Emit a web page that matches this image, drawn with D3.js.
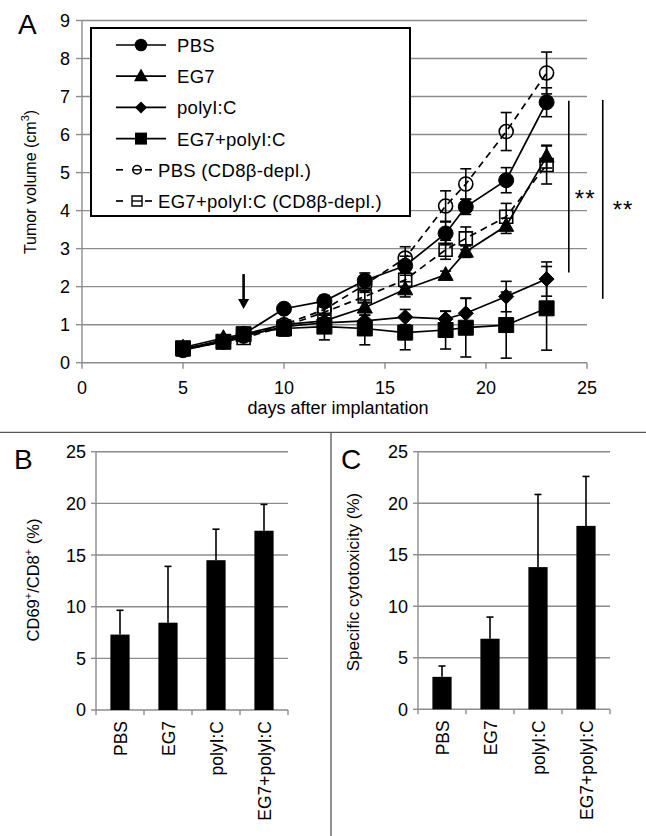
<!DOCTYPE html>
<html><head><meta charset="utf-8">
<script src="https://cdn.jsdelivr.net/npm/d3@7"></script>
<style>
body{margin:0;background:#fff}
text{font-family:"Liberation Sans",Arial,Helvetica,sans-serif;fill:#000}
</style>
</head><body>
<svg id="c" width="646" height="836"></svg>
<script>
// ---------- DATA ----------
const days = [5, 7, 8, 10, 12, 14, 16, 18, 19, 21, 23];
const seriesNames = ["PBS", "EG7", "polyI:C", "EG7+polyI:C", "PBS (CD8β-depl.)", "EG7+polyI:C (CD8β-depl.)"];
const pbsVals        = [0.33, 0.55, 0.75, 1.42, 1.62, 2.16, 2.55, 3.40, 4.10, 4.80, 6.85];
const pbsErr         = [0.05, 0.05, 0.08, 0.10, 0.15, 0.20, 0.25, 0.30, 0.20, 0.33, 0.38];
const eg7Vals        = [0.40, 0.65, 0.75, 1.00, 1.10, 1.45, 1.93, 2.31, 2.92, 3.60, 5.42];
const eg7Err         = [0.05, 0.05, 0.10, 0.10, 0.15, 0.20, 0.20, 0.10, 0.15, 0.20, 0.30];
const polyVals       = [0.35, 0.60, 0.70, 0.95, 1.05, 1.10, 1.20, 1.15, 1.30, 1.74, 2.20];
const polyErr        = [0.05, 0.05, 0.10, 0.10, 0.10, 0.15, 0.20, 0.20, 0.40, 0.40, 0.45];
const eg7PolyVals    = [0.38, 0.55, 0.75, 0.90, 0.95, 0.90, 0.79, 0.86, 0.92, 0.99, 1.43];
const eg7PolyErr     = [0.05, 0.05, 0.10, 0.20, 0.35, 0.43, 0.45, 0.50, 0.77, 0.87, 1.10];
const pbsDeplVals    = [0.35, 0.55, 0.70, 1.00, 1.40, 2.05, 2.75, 4.12, 4.70, 6.08, 7.62];
const pbsDeplErr     = [0.05, 0.05, 0.08, 0.10, 0.15, 0.20, 0.30, 0.40, 0.40, 0.50, 0.55];
const eg7PolyDeplVals= [0.35, 0.55, 0.65, 0.95, 1.33, 1.74, 2.18, 2.97, 3.27, 3.84, 5.20];
const eg7PolyDeplErr = [0.05, 0.05, 0.08, 0.10, 0.15, 0.15, 0.20, 0.25, 0.30, 0.35, 0.50];
const xTicksA = [0, 5, 10, 15, 20, 25];
const yTicksA = [0, 1, 2, 3, 4, 5, 6, 7, 8, 9];
const arrowDay = 8, arrowFrom = 2.33, arrowTo = 1.41;
const sigBrackets = [ {x: 24.1, top: 6.89, bottom: 2.37}, {x: 25.78, top: 6.91, bottom: 1.68} ];

const barCats = ["PBS", "EG7", "polyI:C", "EG7+polyI:C"];
const cd69Vals = [7.3, 8.45, 14.5, 17.35];
const cd69Err  = [2.35, 5.45, 3.0, 2.55];
const cytoVals = [3.15, 6.85, 13.8, 17.8];
const cytoErr  = [1.05, 2.1, 7.05, 4.8];
const yTicksBar = [0, 5, 10, 15, 20, 25];

// ---------- HELPERS ----------
const svg = d3.select("#c");
const GRID = "#8c8c8c";
const TICK_FS = 18;
function shapePath(type, s) {
  const h = s / 2;
  if (type === "circle") return `M${-h},0A${h},${h} 0 1,0 ${h},0A${h},${h} 0 1,0 ${-h},0Z`;
  if (type === "square") return `M${-h},${-h}H${h}V${h}H${-h}Z`;
  if (type === "diamond") return `M0,${-h}L${h},0L0,${h}L${-h},0Z`;
  const th = s * 0.92;
  return `M0,${-th * 0.6}L${h},${th * 0.4}L${-h},${th * 0.4}Z`;
}

// ---------- PANEL A ----------
const xA = d3.scaleLinear().domain([0, 25]).range([82, 587]);
const yA = d3.scaleLinear().domain([0, 9]).range([362.7, 20.5]);
const gA = svg.append("g");

gA.selectAll("line.grid").data(yTicksA.filter(v => v > 0)).join("line")
  .attr("x1", xA(0)).attr("x2", xA(25)).attr("y1", d => yA(d)).attr("y2", d => yA(d))
  .attr("stroke", GRID).attr("stroke-width", 1.4);
gA.append("line").attr("x1", xA(0)).attr("x2", xA(25)).attr("y1", yA(0)).attr("y2", yA(0)).attr("stroke", GRID).attr("stroke-width", 1.4);
gA.append("line").attr("x1", xA(0)).attr("x2", xA(0)).attr("y1", yA(0)).attr("y2", yA(9)).attr("stroke", GRID).attr("stroke-width", 1.4);
gA.selectAll("line.yt").data(yTicksA).join("line")
  .attr("x1", xA(0) - 6).attr("x2", xA(0)).attr("y1", d => yA(d)).attr("y2", d => yA(d)).attr("stroke", GRID).attr("stroke-width", 1.4);
gA.selectAll("line.xt").data(xTicksA).join("line")
  .attr("x1", d => xA(d)).attr("x2", d => xA(d)).attr("y1", yA(0)).attr("y2", yA(0) + 6).attr("stroke", GRID).attr("stroke-width", 1.4);
gA.selectAll("text.yl").data(yTicksA).join("text")
  .attr("x", 70).attr("y", d => yA(d)).attr("dy", "0.36em").attr("text-anchor", "end").attr("font-size", TICK_FS).text(d => d);
gA.selectAll("text.xl").data(xTicksA).join("text")
  .attr("x", d => xA(d)).attr("y", 394).attr("text-anchor", "middle").attr("font-size", TICK_FS).text(d => d);

gA.append("text").attr("x", 338).attr("y", 414).attr("text-anchor", "middle").attr("font-size", 18).text("days after implantation");
const tA = gA.append("text").attr("transform", "translate(36,182) rotate(-90)").attr("text-anchor", "middle").attr("font-size", 16);
tA.append("tspan").text("Tumor volume (cm");
tA.append("tspan").attr("font-size", 11).attr("dy", -7).text("3");
tA.append("tspan").attr("dy", 7).text(")");
gA.append("text").attr("x", 18).attr("y", 34).attr("font-size", 28).text("A");

const series = [
  {name: seriesNames[0], vals: pbsVals, errs: pbsErr, shape: "circle", filled: true, dashed: false, size: 15},
  {name: seriesNames[1], vals: eg7Vals, errs: eg7Err, shape: "triangle", filled: true, dashed: false, size: 15},
  {name: seriesNames[2], vals: polyVals, errs: polyErr, shape: "diamond", filled: true, dashed: false, size: 15},
  {name: seriesNames[3], vals: eg7PolyVals, errs: eg7PolyErr, shape: "square", filled: true, dashed: false, size: 15},
  {name: seriesNames[4], vals: pbsDeplVals, errs: pbsDeplErr, shape: "circle", filled: false, dashed: true, size: 14},
  {name: seriesNames[5], vals: eg7PolyDeplVals, errs: eg7PolyDeplErr, shape: "square", filled: false, dashed: true, size: 13}
];
const line = d3.line().x(d => xA(d.x)).y(d => yA(d.y));

// error bars
series.forEach(s => {
  const pts = days.map((x, i) => ({x, y: s.vals[i], e: s.errs[i]}));
  const g = gA.append("g").attr("stroke", "#000").attr("stroke-width", 1.6);
  pts.forEach(p => {
    g.append("line").attr("x1", xA(p.x)).attr("x2", xA(p.x)).attr("y1", yA(p.y - p.e)).attr("y2", yA(p.y + p.e));
    [p.y - p.e, p.y + p.e].forEach(v => g.append("line").attr("x1", xA(p.x) - 5.5).attr("x2", xA(p.x) + 5.5).attr("y1", yA(v)).attr("y2", yA(v)));
  });
});
// lines
series.forEach(s => {
  const pts = days.map((x, i) => ({x, y: s.vals[i]}));
  gA.append("path").attr("d", line(pts)).attr("fill", "none").attr("stroke", "#000").attr("stroke-width", 1.7)
    .attr("stroke-dasharray", s.dashed ? "7,5" : null);
});
// markers
series.forEach(s => {
  gA.append("g").selectAll("path").data(days.map((x, i) => ({x, y: s.vals[i]}))).join("path")
    .attr("transform", d => `translate(${xA(d.x)},${yA(d.y)})`)
    .attr("d", shapePath(s.shape, s.size))
    .attr("fill", s.filled ? "#000" : "none").attr("stroke", "#000").attr("stroke-width", s.filled ? 1 : 1.6);
});

// arrow
gA.append("line").attr("x1", xA(arrowDay)).attr("x2", xA(arrowDay)).attr("y1", yA(arrowFrom)).attr("y2", yA(arrowTo) - 8)
  .attr("stroke", "#000").attr("stroke-width", 2.6);
gA.append("path").attr("d", `M${xA(arrowDay) - 5.5},${yA(arrowTo) - 10}L${xA(arrowDay) + 5.5},${yA(arrowTo) - 10}L${xA(arrowDay)},${yA(arrowTo)}Z`).attr("fill", "#000");

// significance
sigBrackets.forEach(b => {
  gA.append("line").attr("x1", xA(b.x)).attr("x2", xA(b.x)).attr("y1", yA(b.top)).attr("y2", yA(b.bottom)).attr("stroke", "#000").attr("stroke-width", 1.6);
});
gA.append("text").attr("x", xA(sigBrackets[0].x) + 6).attr("y", 207).attr("font-size", 24).attr("letter-spacing", 1).text("**");
gA.append("text").attr("x", xA(sigBrackets[1].x) + 10).attr("y", 218).attr("font-size", 24).attr("letter-spacing", 1).text("**");

// legend
const lg = gA.append("g");
lg.append("rect").attr("x", 91).attr("y", 28).attr("width", 319).attr("height", 188).attr("fill", "#fff").attr("stroke", "#000").attr("stroke-width", 2);
const legendSizes = [12.6, 14, 12, 12, 8.5, 10];
series.forEach((s, i) => {
  const cy = 45 + i * 31.2;
  if (!s.dashed) {
    lg.append("line").attr("x1", 116).attr("x2", 166).attr("y1", cy).attr("y2", cy).attr("stroke", "#000").attr("stroke-width", 1.7);
    lg.append("path").attr("transform", `translate(141,${cy})`).attr("d", shapePath(s.shape, legendSizes[i])).attr("fill", "#000");
    lg.append("text").attr("x", 177).attr("y", cy + 7).attr("font-size", 18.5).attr("letter-spacing", 0.3).text(s.name);
  } else {
    lg.append("line").attr("x1", 116).attr("x2", 123).attr("y1", cy).attr("y2", cy).attr("stroke", "#000").attr("stroke-width", 1.7);
    lg.append("line").attr("x1", 145).attr("x2", 152).attr("y1", cy).attr("y2", cy).attr("stroke", "#000").attr("stroke-width", 1.7);
    lg.append("line").attr("x1", 132).attr("x2", 142).attr("y1", cy).attr("y2", cy).attr("stroke", "#000").attr("stroke-width", 1.4);
    lg.append("path").attr("transform", `translate(137,${cy})`).attr("d", shapePath(s.shape, legendSizes[i])).attr("fill", "none").attr("stroke", "#000").attr("stroke-width", 1.4);
    lg.append("text").attr("x", 158).attr("y", cy + 7).attr("font-size", 18.5).attr("letter-spacing", 0.3).text(s.name);
  }
});

// ---------- DIVIDERS ----------
svg.append("line").attr("x1", 0).attr("x2", 646).attr("y1", 432.3).attr("y2", 432.3).attr("stroke", "#555").attr("stroke-width", 1.3);
svg.append("line").attr("x1", 331).attr("x2", 331).attr("y1", 432.3).attr("y2", 836).attr("stroke", "#555").attr("stroke-width", 1.3);

// ---------- PANELS B & C ----------
function barPanel(opt) {
  const g = svg.append("g");
  const x = d3.scaleBand().domain(barCats).range([opt.x0, opt.x1]).paddingInner(0.6).paddingOuter(0.3);
  const y = d3.scaleLinear().domain([0, 25]).range([opt.y0, opt.y1]);
  g.selectAll("line.grid").data(yTicksBar.filter(v => v > 0)).join("line")
    .attr("x1", opt.x0).attr("x2", opt.x1).attr("y1", d => y(d)).attr("y2", d => y(d)).attr("stroke", GRID).attr("stroke-width", 1.4);
  g.append("line").attr("x1", opt.x0).attr("x2", opt.x1).attr("y1", y(0)).attr("y2", y(0)).attr("stroke", GRID).attr("stroke-width", 1.4);
  g.append("line").attr("x1", opt.x0).attr("x2", opt.x0).attr("y1", y(0)).attr("y2", y(25)).attr("stroke", GRID).attr("stroke-width", 1.4);
  g.selectAll("line.yt").data(yTicksBar).join("line")
    .attr("x1", opt.x0 - 5).attr("x2", opt.x0).attr("y1", d => y(d)).attr("y2", d => y(d)).attr("stroke", GRID).attr("stroke-width", 1.4);
  const bounds = d3.range(barCats.length + 1).map(i => opt.x0 + i * x.step());
  g.selectAll("line.xt").data(bounds).join("line")
    .attr("x1", d => d).attr("x2", d => d).attr("y1", y(0)).attr("y2", y(0) + 5).attr("stroke", GRID).attr("stroke-width", 1.4);
  g.selectAll("text.yl").data(yTicksBar).join("text")
    .attr("x", opt.x0 - 10).attr("y", d => y(d)).attr("dy", "0.36em").attr("text-anchor", "end").attr("font-size", TICK_FS).text(d => d);
  barCats.forEach((c, i) => {
    const cx = x(c) + x.bandwidth() / 2;
    g.append("line").attr("x1", cx).attr("x2", cx).attr("y1", y(opt.vals[i])).attr("y2", y(opt.vals[i] + opt.errs[i])).attr("stroke", "#000").attr("stroke-width", 1.6);
    g.append("line").attr("x1", cx - 3.5).attr("x2", cx + 3.5).attr("y1", y(opt.vals[i] + opt.errs[i])).attr("y2", y(opt.vals[i] + opt.errs[i])).attr("stroke", "#000").attr("stroke-width", 1.6);
  });
  g.selectAll("rect.bar").data(barCats).join("rect")
    .attr("x", d => x(d)).attr("width", x.bandwidth())
    .attr("y", (d, i) => y(opt.vals[i])).attr("height", (d, i) => y(0) - y(opt.vals[i])).attr("fill", "#000");
  g.selectAll("text.cat").data(barCats).join("text")
    .attr("transform", d => `translate(${x(d) + x.bandwidth() / 2 + 6.5},${y(0) + 11}) rotate(-90)`)
    .attr("text-anchor", "end").attr("font-size", 17.5).text(d => d);
  g.append("text").attr("x", opt.labelX).attr("y", 469).attr("font-size", 28).text(opt.label);
  const t = g.append("text").attr("transform", `translate(${opt.titleX},${opt.titleY}) rotate(-90)`).attr("text-anchor", "middle").attr("font-size", opt.titleFs);
  opt.title(t);
}

barPanel({x0: 96, x1: 288, y0: 710, y1: 451.7, vals: cd69Vals, errs: cd69Err, label: "B", labelX: 14, titleX: 39, titleY: 580, titleFs: 16.5,
  title: t => {
    t.append("tspan").text("CD69");
    t.append("tspan").attr("font-size", 11).attr("dy", -7).text("+");
    t.append("tspan").attr("dy", 7).text("/CD8");
    t.append("tspan").attr("font-size", 11).attr("dy", -7).text("+");
    t.append("tspan").attr("dy", 7).text(" (%)");
  }});
barPanel({x0: 418, x1: 610, y0: 709.3, y1: 451.7, vals: cytoVals, errs: cytoErr, label: "C", labelX: 341, titleX: 359, titleY: 582, titleFs: 17,
  title: t => { t.text("Specific cytotoxicity (%)"); }});
</script>
</body></html>
